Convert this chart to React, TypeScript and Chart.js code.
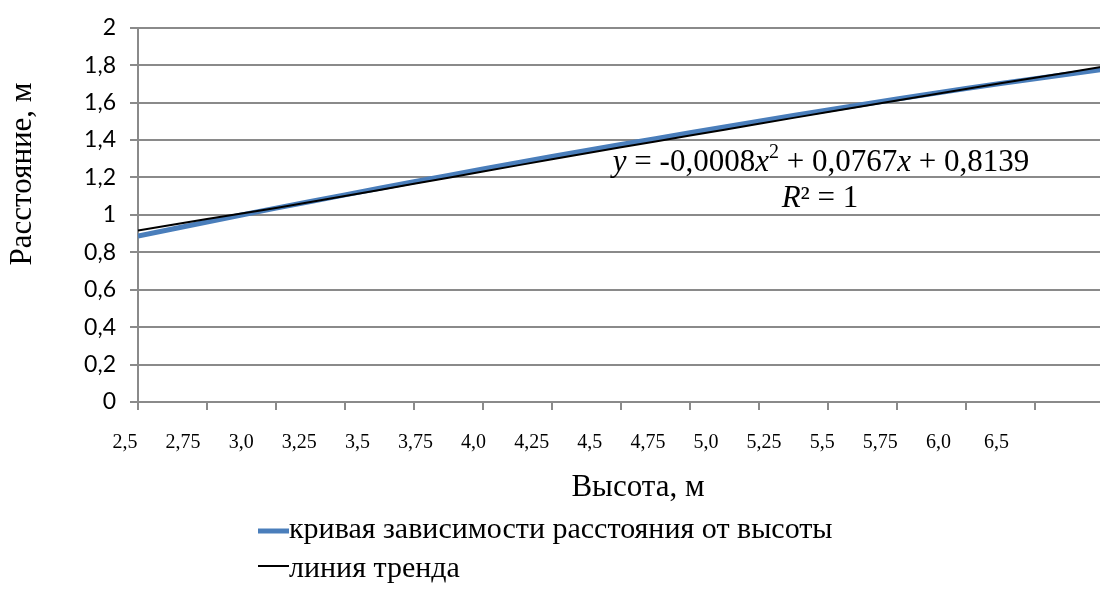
import React, { useEffect, useRef } from 'react';
import { Chart, registerables } from 'chart.js';

Chart.register(...registerables);

// category positions of the measured points (Excel line-chart indices)
const pointIndex = [1, 2, 3, 4, 5, 6, 7, 8, 9, 10, 11, 12, 13, 14, 15];
// "кривая зависимости расстояния от высоты"
const curveValues = [0.887, 0.962, 1.036, 1.107, 1.177, 1.245, 1.312, 1.376, 1.439, 1.501, 1.561, 1.619, 1.676, 1.728, 1.778];
// "линия тренда"
const trendValues = [0.916, 0.978, 1.037, 1.101, 1.166, 1.232, 1.297, 1.361, 1.424, 1.487, 1.55, 1.612, 1.673, 1.733, 1.793];
// printed x-axis labels
const xTickLabels = ['2,5', '2,75', '3,0', '3,25', '3,5', '3,75', '4,0', '4,25', '4,5', '4,75', '5,0', '5,25', '5,5', '5,75', '6,0', '6,5'];

const seriesNames = ['кривая зависимости расстояния от высоты', 'линия тренда'];
const xTitle = 'Высота, м';
const yTitle = 'Расстояние, м';

const SERIF = '"Liberation Serif", "Times New Roman", serif';
const SANS = 'Lato, "Open Sans", sans-serif';
const BLUE = '#4A7EBB';
const GRID = '#8a8a8a';

const textPlugin = {
  id: 'texts',
  afterDraw(chart: any) {
    const ctx = chart.ctx as CanvasRenderingContext2D;
    ctx.save();
    ctx.fillStyle = '#000';
    // y-axis title
    ctx.save();
    ctx.translate(23, 174);
    ctx.rotate(-Math.PI / 2);
    ctx.font = `31px ${SERIF}`;
    ctx.textAlign = 'center';
    ctx.textBaseline = 'middle';
    ctx.fillText(yTitle, 0, 0);
    ctx.restore();

    // x-axis title
    ctx.font = `31px ${SERIF}`;
    ctx.textAlign = 'center';
    ctx.textBaseline = 'middle';
    ctx.fillText(xTitle, 638, 488);

    // legend
    ctx.textAlign = 'left';
    ctx.font = `30px ${SERIF}`;
    ctx.strokeStyle = BLUE;
    ctx.lineWidth = 5;
    ctx.beginPath();
    ctx.moveTo(258, 531);
    ctx.lineTo(289, 531);
    ctx.stroke();
    ctx.fillText(seriesNames[0], 289, 530);
    ctx.strokeStyle = '#000';
    ctx.lineWidth = 2;
    ctx.beginPath();
    ctx.moveTo(258, 566);
    ctx.lineTo(289, 566);
    ctx.stroke();
    ctx.fillText(seriesNames[1], 289, 569);

    // trendline equation
    const size = 31;
    const segs: { t: string; it?: boolean; sup?: boolean }[] = [
      { t: 'y', it: true },
      { t: ' = -0,0008' },
      { t: 'x', it: true },
      { t: '2', sup: true },
      { t: ' + 0,0767' },
      { t: 'x', it: true },
      { t: ' + 0,8139' },
    ];
    const fontFor = (s: any) => `${s.it ? 'italic ' : ''}${s.sup ? Math.round(size * 0.65) : size}px ${SERIF}`;
    let total = 0;
    for (const s of segs) {
      ctx.font = fontFor(s);
      total += ctx.measureText(s.t).width;
    }
    let x = 821 - total / 2;
    ctx.textBaseline = 'alphabetic';
    for (const s of segs) {
      ctx.font = fontFor(s);
      ctx.fillText(s.t, x, s.sup ? 171 - size * 0.42 : 171);
      x += ctx.measureText(s.t).width;
    }
    const r = [{ t: 'R', it: true }, { t: '² = 1' }];
    total = 0;
    for (const s of r) {
      ctx.font = fontFor(s);
      total += ctx.measureText(s.t).width;
    }
    x = 820 - total / 2;
    for (const s of r) {
      ctx.font = fontFor(s);
      ctx.fillText(s.t, x, 207);
      x += ctx.measureText(s.t).width;
    }
    ctx.restore();
  },
};

export default function App() {
  const ref = useRef<HTMLCanvasElement>(null);
  useEffect(() => {
    if (!ref.current) return;
    const chart = new Chart(ref.current, {
      type: 'line',
      data: {
        datasets: [
          {
            label: seriesNames[1],
            data: pointIndex.map((p, i) => ({ x: p, y: trendValues[i] })),
            borderColor: '#000',
            borderWidth: 2,
            pointRadius: 0,
            fill: false,
            tension: 0.4,
            order: 0,
          },
          {
            label: seriesNames[0],
            data: pointIndex.map((p, i) => ({ x: p, y: curveValues[i] })),
            borderColor: BLUE,
            borderWidth: 5,
            pointRadius: 0,
            fill: false,
            tension: 0.4,
            order: 1,
          },
        ],
      },
      options: {
        animation: false,
        responsive: true,
        maintainAspectRatio: false,
        layout: { padding: { top: 19, right: 36, left: 0, bottom: 0 } },
        plugins: { legend: { display: false }, tooltip: { enabled: false } },
        scales: {
          x: {
            type: 'linear',
            position: 'bottom',
            min: 1,
            max: 15,
            ticks: { stepSize: 1, display: false },
            grid: { drawOnChartArea: false, drawTicks: true, tickLength: 8, color: GRID, lineWidth: 2 },
            border: { color: GRID, width: 2 },
            afterFit: (s: any) => { s.height = 8; },
          },
          x2: {
            type: 'linear',
            position: 'bottom',
            min: 0.224,
            max: 16.85,
            afterBuildTicks: (s: any) => { s.ticks = xTickLabels.map((_, i) => ({ value: i })); },
            ticks: {
              autoSkip: false,
              maxRotation: 0,
              padding: 13,
              color: '#000',
              font: { family: SERIF, size: 20 },
              callback: (v: any) => xTickLabels[v] ?? '',
            },
            grid: { display: false },
            border: { display: false },
            afterFit: (s: any) => { s.height = 184; },
          },
          y: {
            min: 0,
            max: 2,
            ticks: {
              stepSize: 0.2,
              padding: 14,
              color: '#000',
              font: { family: SANS, size: 23 },
              callback: (v: any) => {
                const n = Math.round(Number(v) * 10) / 10;
                return Number.isInteger(n) ? String(n) : n.toFixed(1).replace('.', ',');
              },
            },
            grid: { color: GRID, lineWidth: 2, tickLength: 8 },
            border: { color: GRID, width: 2 },
            afterFit: (s: any) => { s.width = 138; },
          },
        },
      },
      plugins: [textPlugin],
    } as any);
    return () => chart.destroy();
  }, []);

  return (
    <div style={{ position: 'fixed', left: 0, top: 0, width: 1100, height: 594, overflow: 'hidden', background: '#fff' }}>
      <div style={{ position: 'relative', width: 1140, height: 594 }}>
        <canvas ref={ref} />
      </div>
    </div>
  );
}
